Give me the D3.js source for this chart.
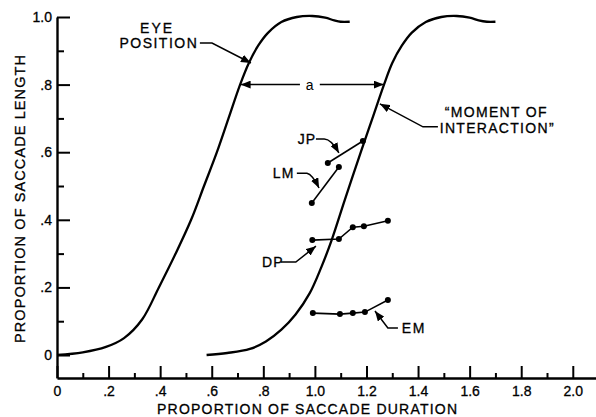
<!DOCTYPE html>
<html><head><meta charset="utf-8">
<script src="https://cdn.jsdelivr.net/npm/d3@7"></script>
<style>
html,body{margin:0;padding:0;background:#fff;}
svg{display:block;}
text{font-family:"Liberation Sans",Arial,sans-serif;fill:#000;}
</style></head>
<body><svg id="c" width="596" height="417"></svg>
<script>
// ---- data ----
const xTickValues = [0,0.2,0.4,0.6,0.8,1.0,1.2,1.4,1.6,1.8,2.0];
const xTickLabels = ["0",".2",".4",".6",".8","1.0","1.2","1.4","1.6","1.8","2.0"];
const xMinorTicks = [0.1,0.3,0.5,0.7,0.9,1.1,1.3,1.5,1.7,1.9];
const yTickValues = [0,0.2,0.4,0.6,0.8,1.0];
const yTickLabels = ["0",".2",".4",".6",".8","1.0"];
const yMinorTicks = [0.1,0.3,0.5,0.7,0.9];

// eye position curve (x = proportion of duration, y = proportion of length)
const eyeX = [0,0.1,0.19,0.26,0.33,0.395,0.46,0.52,0.57,0.62,0.665,0.71,0.744,0.78,0.818,0.87,0.93,0.99,1.04,1.075,1.10,1.135];
const eyeY = [0,0.008,0.024,0.05,0.105,0.2,0.30,0.40,0.50,0.60,0.70,0.80,0.864,0.915,0.953,0.985,1.0,1.003,0.998,0.99,0.986,0.986];
// "moment of interaction" curve
const moiX = [0.58,0.66,0.748,0.81,0.87,0.925,0.98,1.025,1.065,1.116,1.178,1.223,1.268,1.30,1.337,1.375,1.43,1.49,1.55,1.60,1.635,1.667,1.70];
const moiY = [0,0.006,0.018,0.04,0.075,0.12,0.183,0.26,0.34,0.459,0.60,0.70,0.80,0.864,0.915,0.953,0.985,1.0,1.003,0.998,0.99,0.986,0.986];

// subjects
const jpX = [1.05,1.186];          const jpY = [0.568,0.633];
const lmX = [0.988,1.093];         const lmY = [0.45,0.556];
const dpX = [0.99,1.093,1.147,1.19,1.283]; const dpY = [0.34,0.343,0.378,0.381,0.397];
const emX = [0.992,1.097,1.147,1.194,1.283]; const emY = [0.124,0.121,0.124,0.127,0.163];

// ---- scales ----
const svg = d3.select("#c");
const x = d3.scaleLinear().domain([0,2.09]).range([57,596]);
const y = d3.scaleLinear().domain([-0.068,1]).range([378,17]);

// ---- axes ----
const fmtX = d => xTickLabels[xTickValues.findIndex(v=>Math.abs(v-d)<1e-9)];
const fmtY = d => yTickLabels[yTickValues.findIndex(v=>Math.abs(v-d)<1e-9)];

svg.append("g").attr("transform",`translate(0,${y(-0.068)})`)
  .call(d3.axisBottom(x).tickValues(xTickValues).tickFormat(fmtX).tickSize(-12).tickSizeOuter(0).tickPadding(8));
svg.append("g").attr("transform",`translate(0,${y(-0.068)})`)
  .call(d3.axisBottom(x).tickValues(xMinorTicks).tickFormat("").tickSize(-5).tickSizeOuter(0))
  .select(".domain").remove();

svg.append("g").attr("transform",`translate(${x(0)},0)`)
  .call(d3.axisLeft(y).tickValues(yTickValues).tickFormat(fmtY).tickSize(-13).tickSizeOuter(0).tickPadding(5));
svg.append("g").attr("transform",`translate(${x(0)},0)`)
  .call(d3.axisLeft(y).tickValues(yMinorTicks).tickFormat("").tickSize(-7).tickSizeOuter(0))
  .select(".domain").remove();

svg.selectAll(".domain").attr("stroke","#000").attr("stroke-width",2.4);
svg.selectAll(".tick line").attr("stroke","#000").attr("stroke-width",2);
svg.selectAll(".tick text").attr("font-size",14).attr("font-family","Liberation Sans, Arial, sans-serif")
  .attr("fill","#000").attr("stroke","#000").attr("stroke-width",0.3);

// axis titles
svg.append("text").attr("x",307).attr("y",414).attr("text-anchor","middle")
  .attr("font-size",14).attr("textLength",300).attr("lengthAdjust","spacing")
  .attr("stroke","#000").attr("stroke-width",0.3)
  .text("PROPORTION OF SACCADE DURATION");
svg.append("text").attr("transform","translate(25,199) rotate(-90)").attr("text-anchor","middle")
  .attr("font-size",14.5).attr("textLength",288).attr("lengthAdjust","spacing")
  .attr("stroke","#000").attr("stroke-width",0.3)
  .text("PROPORTION OF SACCADE LENGTH");

// ---- curves ----
const line = d3.line().x(d=>x(d[0])).y(d=>y(d[1])).curve(d3.curveCatmullRom.alpha(0.5));
svg.append("path").datum(eyeX.map((v,i)=>[v,eyeY[i]])).attr("d",line)
  .attr("fill","none").attr("stroke","#000").attr("stroke-width",2.3);
svg.append("path").datum(moiX.map((v,i)=>[v,moiY[i]])).attr("d",line)
  .attr("fill","none").attr("stroke","#000").attr("stroke-width",2.3);

// ---- subject data ----
const lin = d3.line().x(d=>x(d[0])).y(d=>y(d[1]));
[[jpX,jpY],[lmX,lmY],[dpX,dpY],[emX,emY]].forEach(([xs,ys])=>{
  const pts = xs.map((v,i)=>[v,ys[i]]);
  svg.append("path").datum(pts).attr("d",lin).attr("fill","none").attr("stroke","#000").attr("stroke-width",1.6);
  svg.selectAll(null).data(pts).enter().append("circle")
    .attr("cx",d=>x(d[0])).attr("cy",d=>y(d[1])).attr("r",3).attr("fill","#000");
});

// ---- annotations ----
const defs = svg.append("defs");
defs.append("marker").attr("id","ah").attr("viewBox","0 0 10 8").attr("refX",10).attr("refY",4)
  .attr("markerWidth",10).attr("markerHeight",8).attr("markerUnits","userSpaceOnUse").attr("orient","auto")
  .append("path").attr("d","M0,0 L10,4 L0,8 Z").attr("fill","#000");

function leader(pts, ctrl){
  let d = `M${x(pts[0][0])},${y(pts[0][1])} L${x(pts[1][0])},${y(pts[1][1])}`;
  if(ctrl) d += ` Q${x(ctrl[0])},${y(ctrl[1])} ${x(pts[2][0])},${y(pts[2][1])}`;
  else d += ` L${x(pts[2][0])},${y(pts[2][1])}`;
  svg.append("path").attr("d",d).attr("fill","none").attr("stroke","#000").attr("stroke-width",1.5).attr("marker-end","url(#ah)");
}
function label(t, xv, yv, ls, anchor){
  svg.append("text").attr("x",x(xv)).attr("y",y(yv)).attr("font-size",14)
    .attr("letter-spacing",ls).attr("stroke","#000").attr("stroke-width",0.3)
    .attr("text-anchor",anchor||"start").text(t);
}

// EYE POSITION
label("EYE",0.388,0.953,"2px","middle");
label("POSITION",0.395,0.908,"1.5px","middle");
leader([[0.554,0.923],[0.601,0.923],[0.752,0.864]]);

// "a" arrows
svg.append("line").attr("x1",x(0.942)).attr("y1",y(0.8)).attr("x2",x(0.712)).attr("y2",y(0.8))
  .attr("stroke","#000").attr("stroke-width",1.5).attr("marker-end","url(#ah)");
svg.append("line").attr("x1",x(1.019)).attr("y1",y(0.8)).attr("x2",x(1.267)).attr("y2",y(0.8))
  .attr("stroke","#000").attr("stroke-width",1.5).attr("marker-end","url(#ah)");
svg.append("text").attr("x",x(0.98)).attr("y",y(0.8)).attr("dy","0.35em").attr("text-anchor","middle")
  .attr("font-size",14).text("a");

// MOMENT OF INTERACTION
label("\u201CMOMENT OF",1.504,0.704,"1.3px");
label("INTERACTION\u201D",1.484,0.657,"1.3px");
leader([[1.477,0.675],[1.419,0.675],[1.252,0.743]]);

// JP
label("JP",0.934,0.624,"1px");
leader([[1.004,0.639],[1.035,0.639],[1.093,0.598]],[1.062,0.64]);
// LM
label("LM",0.837,0.524,"1px");
leader([[0.930,0.538],[0.969,0.538],[1.016,0.494]],[0.99,0.535]);
// DP
label("DP",0.795,0.260,"1px");
leader([[0.868,0.275],[0.926,0.275],[1.004,0.322]]);
// EM
label("EM",1.337,0.065,"1.5px");
leader([[1.322,0.080],[1.283,0.080],[1.233,0.130]]);
</script></body></html>
